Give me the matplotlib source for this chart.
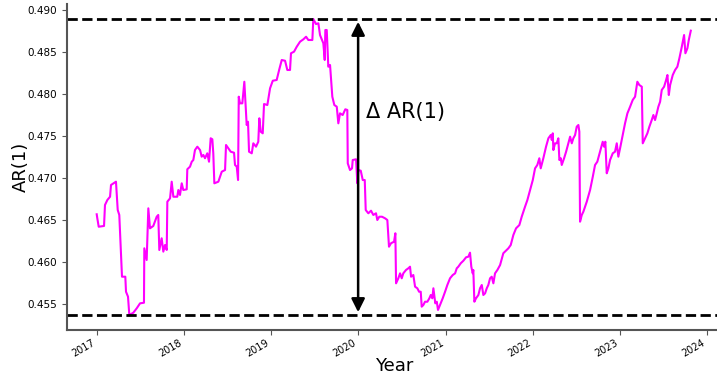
import numpy as np
import pandas as pd
import matplotlib
matplotlib.use("Agg")
import matplotlib.pyplot as plt

# time axis, in decimal years
years = [
    2017.000, 2017.007, 2017.023, 2017.084, 2017.095, 2017.122, 2017.153, 2017.164, 2017.221, 2017.241,
    2017.259, 2017.279, 2017.290, 2017.328, 2017.336, 2017.359, 2017.374, 2017.420, 2017.459, 2017.497,
    2017.542, 2017.546, 2017.573, 2017.592, 2017.611, 2017.649, 2017.688, 2017.706, 2017.718, 2017.745,
    2017.764, 2017.783, 2017.803, 2017.810, 2017.841, 2017.860, 2017.879, 2017.924, 2017.936, 2017.955,
    2017.975, 2017.993, 2018.032, 2018.039, 2018.070, 2018.090, 2018.108, 2018.127, 2018.154, 2018.185,
    2018.204, 2018.223, 2018.242, 2018.268, 2018.288, 2018.307, 2018.326, 2018.337, 2018.349, 2018.395,
    2018.434, 2018.472, 2018.483, 2018.509, 2018.537, 2018.575, 2018.586, 2018.606, 2018.621, 2018.629,
    2018.643, 2018.670, 2018.681, 2018.693, 2018.704, 2018.720, 2018.735, 2018.747, 2018.778, 2018.796,
    2018.827, 2018.853, 2018.865, 2018.881, 2018.904, 2018.919, 2018.957, 2018.988, 2019.019, 2019.064,
    2019.094, 2019.122, 2019.160, 2019.186, 2019.217, 2019.228, 2019.263, 2019.294, 2019.332, 2019.370,
    2019.401, 2019.427, 2019.473, 2019.484, 2019.515, 2019.542, 2019.561, 2019.599, 2019.615, 2019.622,
    2019.638, 2019.656, 2019.676, 2019.702, 2019.725, 2019.753, 2019.771, 2019.790, 2019.821, 2019.851,
    2019.874, 2019.879, 2019.905, 2019.928, 2019.936, 2019.974, 2019.989, 2020.000, 2020.028, 2020.051,
    2020.074, 2020.085, 2020.115, 2020.146, 2020.172, 2020.203, 2020.218, 2020.241, 2020.272, 2020.307,
    2020.333, 2020.352, 2020.375, 2020.410, 2020.425, 2020.433, 2020.459, 2020.479, 2020.498, 2020.516,
    2020.547, 2020.574, 2020.593, 2020.605, 2020.631, 2020.651, 2020.677, 2020.697, 2020.716, 2020.727,
    2020.746, 2020.765, 2020.792, 2020.815, 2020.831, 2020.849, 2020.861, 2020.883, 2020.900, 2020.914,
    2020.937, 2020.968, 2020.995, 2021.021, 2021.052, 2021.083, 2021.110, 2021.129, 2021.147, 2021.175,
    2021.205, 2021.236, 2021.262, 2021.281, 2021.296, 2021.312, 2021.319, 2021.331, 2021.350, 2021.377,
    2021.396, 2021.416, 2021.434, 2021.454, 2021.473, 2021.491, 2021.511, 2021.530, 2021.549, 2021.568,
    2021.595, 2021.626, 2021.663, 2021.702, 2021.721, 2021.748, 2021.778, 2021.809, 2021.847, 2021.874,
    2021.912, 2021.939, 2021.970, 2022.001, 2022.027, 2022.053, 2022.076, 2022.092, 2022.122, 2022.153,
    2022.180, 2022.207, 2022.219, 2022.230, 2022.237, 2022.256, 2022.276, 2022.294, 2022.306, 2022.322,
    2022.333, 2022.360, 2022.383, 2022.409, 2022.429, 2022.448, 2022.466, 2022.486, 2022.505, 2022.524,
    2022.535, 2022.543, 2022.563, 2022.581, 2022.620, 2022.658, 2022.689, 2022.715, 2022.741, 2022.772,
    2022.803, 2022.818, 2022.833, 2022.849, 2022.868, 2022.887, 2022.918, 2022.944, 2022.964, 2022.982,
    2023.002, 2023.028, 2023.059, 2023.086, 2023.117, 2023.147, 2023.174, 2023.200, 2023.223, 2023.251,
    2023.262, 2023.289, 2023.315, 2023.338, 2023.365, 2023.384, 2023.403, 2023.423, 2023.441, 2023.461,
    2023.480, 2023.507, 2023.530, 2023.545, 2023.561, 2023.576, 2023.606, 2023.633, 2023.659, 2023.682,
    2023.710, 2023.736, 2023.751, 2023.774, 2023.790, 2023.813,
]

ar1 = [
    0.46568, 0.46520, 0.46420, 0.46429, 0.46679, 0.46738, 0.46777, 0.46917, 0.46956, 0.46619,
    0.46560, 0.46104, 0.45825, 0.45825, 0.45646, 0.45587, 0.45369, 0.45396, 0.45449, 0.45508,
    0.45515, 0.46163, 0.46024, 0.46639, 0.46401, 0.46429, 0.46539, 0.46560, 0.46143, 0.46282,
    0.46123, 0.46202, 0.46143, 0.46718, 0.46758, 0.46956, 0.46777, 0.46777, 0.46857, 0.46798,
    0.46937, 0.46857, 0.46865, 0.47104, 0.47135, 0.47194, 0.47214, 0.47333, 0.47373, 0.47333,
    0.47254, 0.47274, 0.47235, 0.47294, 0.47194, 0.47473, 0.47461, 0.47294, 0.46937, 0.46956,
    0.47075, 0.47095, 0.47393, 0.47354, 0.47313, 0.47301, 0.47155, 0.47135, 0.46976, 0.47968,
    0.47889, 0.47889, 0.48008, 0.48146, 0.47929, 0.47631, 0.47670, 0.47313, 0.47294, 0.47413,
    0.47373, 0.47432, 0.47711, 0.47551, 0.47532, 0.47881, 0.47869, 0.48068, 0.48158, 0.48167,
    0.48294, 0.48405, 0.48396, 0.48286, 0.48286, 0.48485, 0.48504, 0.48563, 0.48623, 0.48651,
    0.48682, 0.48643, 0.48643, 0.48893, 0.48833, 0.48842, 0.48702, 0.48604, 0.48405, 0.48762,
    0.48762, 0.48325, 0.48345, 0.47968, 0.47869, 0.47849, 0.47651, 0.47770, 0.47750, 0.47818,
    0.47810, 0.47175, 0.47095, 0.47115, 0.47214, 0.47223, 0.46937, 0.47095, 0.47087, 0.46976,
    0.46976, 0.46619, 0.46580, 0.46611, 0.46560, 0.46580, 0.46500, 0.46539, 0.46539, 0.46520,
    0.46500, 0.46182, 0.46223, 0.46242, 0.46342, 0.45746, 0.45806, 0.45865, 0.45806, 0.45865,
    0.45905, 0.45925, 0.45944, 0.45825, 0.45845, 0.45706, 0.45687, 0.45646, 0.45646, 0.45468,
    0.45488, 0.45527, 0.45527, 0.45568, 0.45607, 0.45568, 0.45687, 0.45508, 0.45527, 0.45429,
    0.45488, 0.45568, 0.45646, 0.45726, 0.45806, 0.45845, 0.45865, 0.45925, 0.45944, 0.45985,
    0.46015, 0.46056, 0.46063, 0.46111, 0.45944, 0.45865, 0.45905, 0.45527, 0.45568, 0.45607,
    0.45687, 0.45726, 0.45607, 0.45627, 0.45687, 0.45726, 0.45806, 0.45825, 0.45746, 0.45865,
    0.45905, 0.45964, 0.46104, 0.46143, 0.46163, 0.46202, 0.46321, 0.46401, 0.46440, 0.46539,
    0.46658, 0.46738, 0.46857, 0.46976, 0.47115, 0.47155, 0.47235, 0.47115, 0.47235, 0.47373,
    0.47473, 0.47512, 0.47452, 0.47532, 0.47333, 0.47413, 0.47413, 0.47473, 0.47214, 0.47235,
    0.47155, 0.47235, 0.47313, 0.47413, 0.47492, 0.47413, 0.47473, 0.47512, 0.47611, 0.47631,
    0.47551, 0.46480, 0.46560, 0.46599, 0.46718, 0.46857, 0.47015, 0.47155, 0.47194, 0.47313,
    0.47432, 0.47373, 0.47432, 0.47056, 0.47115, 0.47214, 0.47294, 0.47313, 0.47413, 0.47254,
    0.47354, 0.47492, 0.47651, 0.47770, 0.47849, 0.47929, 0.47968, 0.48146, 0.48107, 0.48087,
    0.47413, 0.47473, 0.47532, 0.47611, 0.47690, 0.47750, 0.47690, 0.47770, 0.47849, 0.47908,
    0.48048, 0.48087, 0.48167, 0.48226, 0.47988, 0.48107, 0.48226, 0.48286, 0.48325, 0.48425,
    0.48563, 0.48702, 0.48485, 0.48544, 0.48643, 0.48754,
]

arrow_date = pd.Timestamp("2020-01-01")
label_date = pd.Timestamp("2020-02-05")

yrs = np.array(years)
dates = pd.Timestamp("2017-01-01") + pd.to_timedelta((yrs - 2017) * 365.25, unit="D")
ar = np.array(ar1)

fig = plt.figure(figsize=(7.17, 3.79), dpi=100)
ax = fig.add_axes([67 / 717, 1 - 329.8 / 379, 653.5 / 717, 325.6 / 379])

ax.plot(dates, ar, color="#ff00ff", lw=1.5)
ax.axhline(ar.max(), color="black", ls="--", lw=2)
ax.axhline(ar.min(), color="black", ls="--", lw=2)

ax.annotate("", xy=(arrow_date, ar.max()), xytext=(arrow_date, ar.min()),
            arrowprops=dict(arrowstyle="<|-|>", color="black", lw=1.8,
                            mutation_scale=20))
ax.text(label_date, 0.4778, "\u0394 AR(1)", fontsize=15, va="center", ha="left")

ax.set_xlabel("Year", fontsize=13, va="center")
ax.set_ylabel("AR(1)", fontsize=13, va="center")
ax.xaxis.set_label_coords(0.5, (329.8 - 366) / 325.6)
ax.yaxis.set_label_coords((21 - 67) / 653.5, 0.5)

for side in ["top", "right"]:
    ax.spines[side].set_visible(False)
for side in ["left", "bottom"]:
    ax.spines[side].set_color("#555555")
    ax.spines[side].set_linewidth(1.5)
ax.tick_params(colors="#555555", labelcolor="black")
ax.tick_params(axis="y", labelsize=7.5)
ax.tick_params(axis="x", labelsize=7, pad=2)
plt.setp(ax.get_xticklabels(), rotation=30, ha="right")

fig.savefig("out.png", dpi=100)
